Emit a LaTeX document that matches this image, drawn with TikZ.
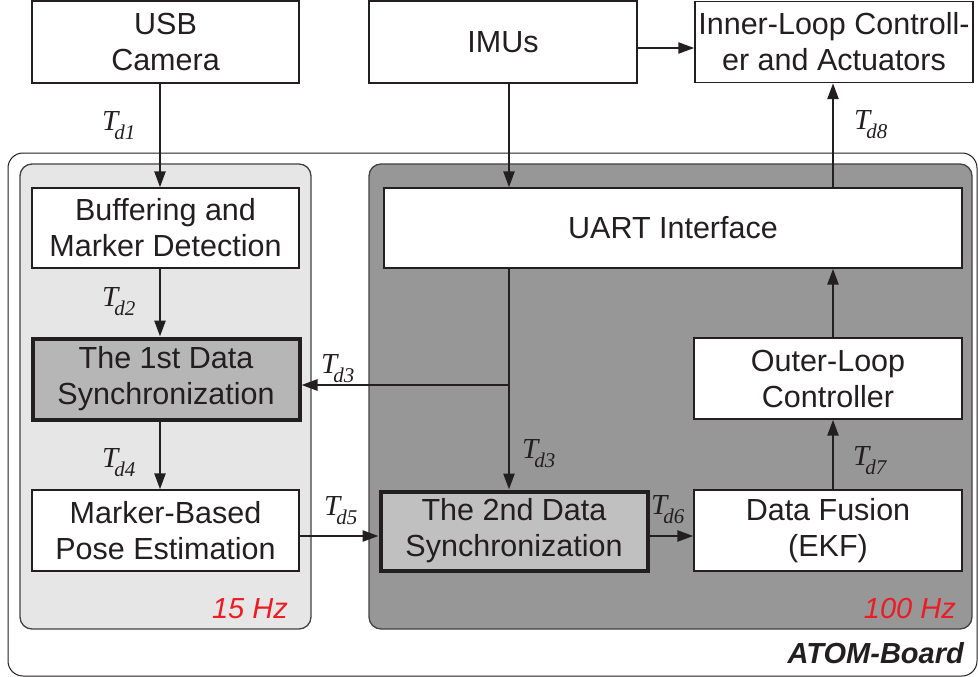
\documentclass[tikz,border=0pt]{standalone}
\usepackage{fontspec}
\setmainfont{Liberation Sans}
\newfontfamily\tdfont{Liberation Serif}
\usetikzlibrary{arrows.meta}
\definecolor{ink}{RGB}{35,31,32}
\definecolor{lpanel}{RGB}{230,230,230}
\definecolor{dpanel}{RGB}{150,151,150}
\definecolor{syncAfill}{RGB}{182,182,182}
\definecolor{syncBfill}{RGB}{192,192,192}
\definecolor{hzred}{RGB}{237,28,36}
\newcommand\Td[1]{{\fontsize{29}{29}\selectfont\tdfont\itshape T}\kern-4pt\raisebox{-9.5pt}{\fontsize{21}{21}\selectfont\tdfont\itshape d#1}}
\tikzset{
  box/.style={draw=ink, line width=1.4pt, fill=white, text=ink, align=center,
    inner sep=0pt, font=\fontsize{30.5}{36}\selectfont},
  syncbox/.style={box, line width=4pt},
  arr/.style={draw=ink, line width=2.5pt, -{Triangle[length=16pt,width=11pt]}},
  tdl/.style={inner sep=0pt, text=ink, anchor=base west},
  panel/.style={draw=ink!85, line width=1.3pt, rounded corners=12pt},
  hz/.style={inner sep=0pt, text=hzred, anchor=base east, font=\fontsize{29}{29}\selectfont\itshape}
}
\begin{document}
\begin{tikzpicture}[x=1pt,y=-1pt]
\useasboundingbox (0,0) rectangle (978,677);
% frames
\draw[draw=ink, line width=1pt, rounded corners=15pt] (8,153) rectangle (977,676);
\draw[panel, fill=lpanel] (20,164) rectangle (311,629);
\draw[panel, fill=dpanel] (369,164) rectangle (972,629);
% boxes
\node[box, minimum width=267pt, minimum height=82pt] (usb) at (165.5,42) {\raisebox{-3pt}{USB}\\\raisebox{-3pt}{Camera}};
\node[box, minimum width=268pt, minimum height=82pt] (imu) at (503,42) {\raisebox{-2pt}{IMUs}};
\node[box, minimum width=278pt, minimum height=81pt] (inner) at (834,42) {\raisebox{-2pt}{Inner-Loop Controll-}\\\raisebox{-2pt}{er and Actuators}};
\node[box, minimum width=267pt, minimum height=80pt] (buf) at (165.5,228) {Buffering and\\Marker Detection};
\node[box, minimum width=578pt, minimum height=80pt] (uart) at (673,228) {\raisebox{-2pt}{UART Interface}};
\node[syncbox, fill=syncAfill, minimum width=267pt, minimum height=81pt] (sync1) at (166,379) {The 1st Data\\Synchronization};
\node[box, minimum width=268pt, minimum height=81pt] (outer) at (828,378.5) {\raisebox{-2pt}{Outer-Loop}\\\raisebox{-2pt}{Controller}};
\node[box, minimum width=267pt, minimum height=81pt] (pose) at (165.5,530.5) {Marker-Based\\Pose Estimation};
\node[syncbox, fill=syncBfill, minimum width=267pt, minimum height=79pt] (sync2) at (514,531) {The 2nd Data\\Synchronization};
\node[box, minimum width=268pt, minimum height=81pt] (fusion) at (828,530.5) {Data Fusion\\(EKF)};
% helper coordinates
\coordinate (xa) at (160,0);
\coordinate (xb) at (509,0);
\coordinate (xc) at (833,0);
\coordinate (yi) at (0,48);
\coordinate (yh) at (0,536);
\coordinate (br) at (509,385);
% connectors
\draw[arr] (usb.south -| xa) -- (buf.north -| xa);
\draw[arr] (buf.south -| xa) -- (sync1.north -| xa);
\draw[arr] (sync1.south -| xa) -- (pose.north -| xa);
\draw[arr] (imu.east |- yi) -- (inner.west |- yi);
\draw[arr] (imu.south -| xb) -- (uart.north -| xb);
\draw[arr] (uart.south -| xb) -- (sync2.north -| xb);
\draw[arr] (br) -- (sync1.east |- br);
\draw[arr] (pose.east |- yh) -- (sync2.west |- yh);
\draw[arr] (sync2.east |- yh) -- (fusion.west |- yh);
\draw[arr] (fusion.north -| xc) -- (outer.south -| xc);
\draw[arr] (outer.north -| xc) -- (uart.south -| xc);
\draw[arr] (uart.north -| xc) -- (inner.south -| xc);
% delay labels
\node[tdl] (td1) at (102,130) {\Td{1}};
\node[tdl] (td2) at (102,306) {\Td{2}};
\node[tdl] (td3a) at (321,373) {\Td{3}};
\node[tdl] (td3b) at (522,458) {\Td{3}};
\node[tdl] (td4) at (102,467) {\Td{4}};
\node[tdl] (td5) at (324,515) {\Td{5}};
\node[tdl] (td6) at (651,514) {\Td{6}};
\node[tdl] (td7) at (853,465) {\Td{7}};
\node[tdl] (td8) at (854,129) {\Td{8}};
% rate labels
\node[hz] (hz15) at (288,618) {15 Hz};
\node[hz] (hz100) at (956,618) {100 Hz};
\node[inner sep=0pt, text=ink, anchor=base east, font=\fontsize{29}{29}\selectfont\bfseries\itshape] (atom) at (964,663) {ATOM-Board};
\end{tikzpicture}
\end{document}
